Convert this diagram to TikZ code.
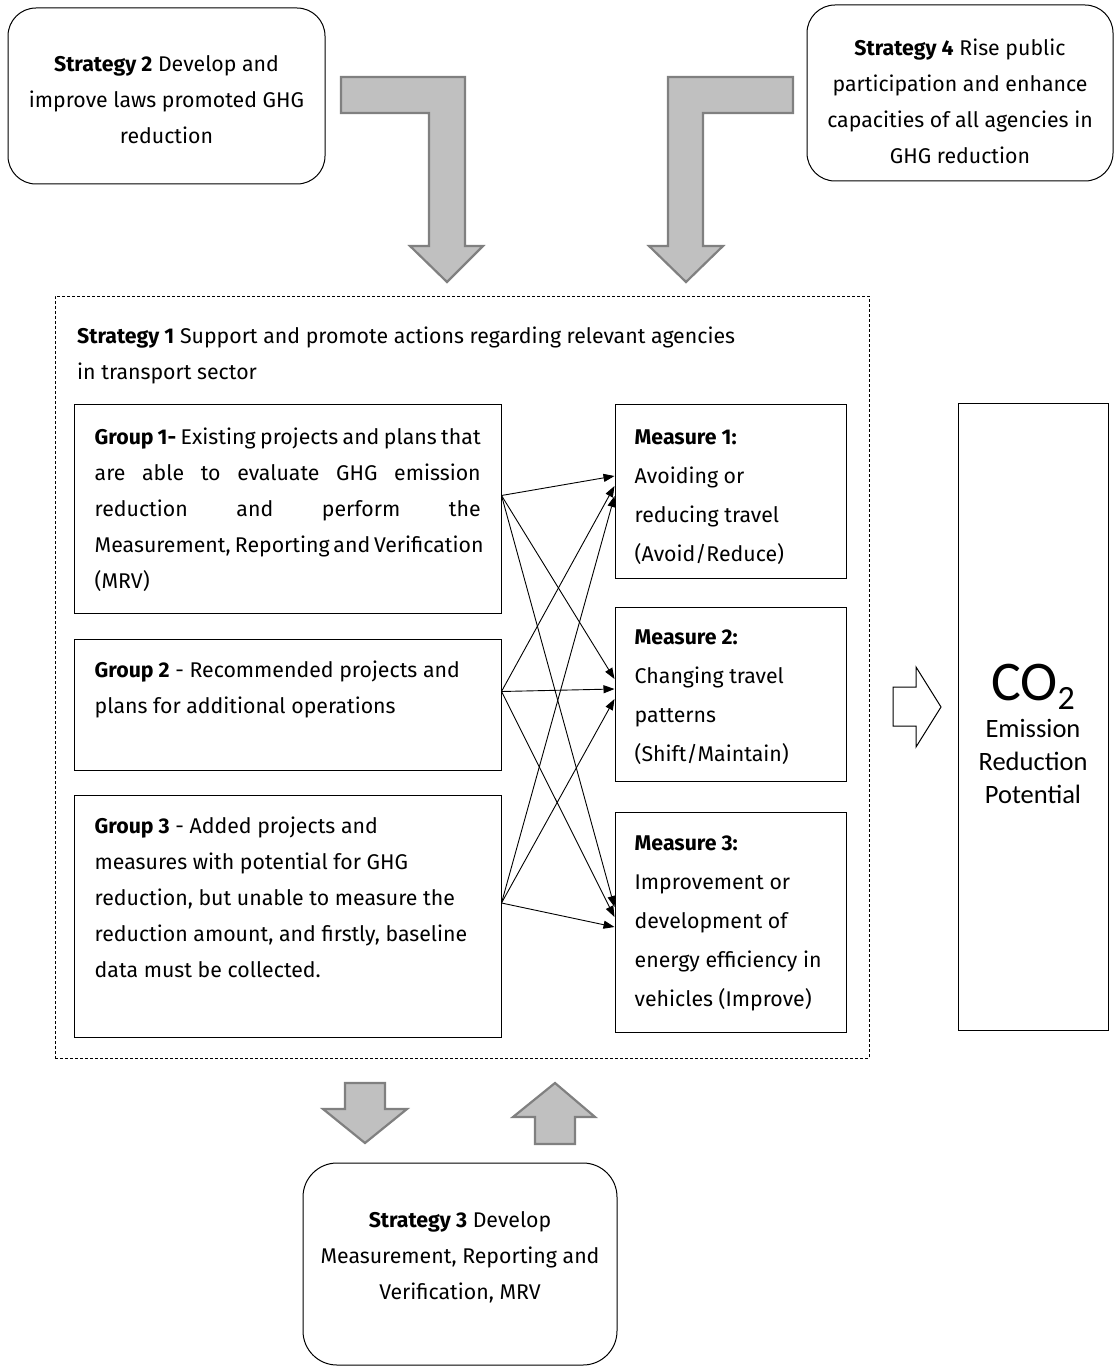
\documentclass[tikz,border=0pt]{standalone}
\usepackage{fontspec}
\setmainfont{Fira Sans}
\newfontfamily\calfont{Carlito}
\usepackage{tikz}
\usetikzlibrary{positioning,calc,arrows.meta}
\definecolor{fatfill}{HTML}{C0C0C0}
\definecolor{fatline}{HTML}{808080}
\setlength{\parindent}{0pt}
\newcommand{\justline}[1]{\makebox[386pt][s]{#1}}
\tikzset{
    stratbox/.style={rectangle, draw, rounded corners=28pt, line width=1pt},
    strattext/.style={inner sep=0pt, align=center, font=\fontsize{21.3}{36}\selectfont},
    framebox/.style={rectangle, draw, line width=0.8pt, dash pattern=on 3pt off 2pt},
    grpbox/.style={rectangle, draw, line width=1pt, minimum width=427pt},
    measbox/.style={rectangle, draw, line width=1pt, minimum width=231pt},
    bodytext/.style={inner sep=0pt, anchor=base west, align=left, font=\fontsize{21.3}{36}\selectfont},
    meastext/.style={inner sep=0pt, anchor=base west, align=left, font=\fontsize{21.3}{39}\selectfont},
    fatarrow/.style={draw=fatline, fill=fatfill, line width=2.2pt},
    hollow/.style={draw, line width=1pt, fill=white},
    link/.style={-{Triangle[length=11pt,width=8pt]}, line width=0.9pt}
}

\begin{document}
\begin{tikzpicture}[x=1pt, y=-1pt]
    \useasboundingbox (0,0) rectangle (1115,1367);

    % strategies 2 and 4 on top
    \node[stratbox, minimum width=317pt, minimum height=176pt] (s2) at (166.5,96) {};
    \node[strattext] (s2t) at ($(s2.center)+(0,4)$) {\textbf{Strategy 2} Develop and\\improve laws promoted GHG\\reduction};
    \node[stratbox, minimum width=306pt, minimum height=176pt] (s4) at (960,93) {};
    \node[strattext] (s4t) at ($(s4.center)+(0,8)$) {\textbf{Strategy 4} Rise public\\participation and enhance\\capacities of all agencies in\\GHG reduction};
    \draw[fatarrow] (341,77) -- (465,77) -- (465,246) -- (483,246) -- (447,282) -- (410,246) -- (429,246) -- (429,113) -- (341,113) -- cycle;
    \draw[fatarrow] (793,77) -- (668,77) -- (668,246) -- (649,246) -- (686,282) -- (723,246) -- (703,246) -- (703,113) -- (793,113) -- cycle;

    % strategy 1 frame (base = last line)
    \node[framebox, minimum width=814pt, minimum height=762pt] (s1) at (462,677) {};
    \node[bodytext] (s1t) at (77,379) {\textbf{Strategy 1} Support and promote actions regarding relevant agencies\\in transport sector};

    % groups
    \node[grpbox, minimum height=209pt] (g1) at (287.5,508.5) {};
    \node[grpbox, minimum height=131pt, below=25pt of g1] (g2) {};
    \node[grpbox, minimum height=242pt, below=24pt of g2] (g3) {};
    \node[bodytext] (g1t) at ($(g1.north west)+(21,185)$) {\justline{\textbf{Group 1-} Existing projects and plans that}\\\justline{are able to evaluate GHG emission}\\\justline{reduction and perform the}\\\justline{Measurement, Reporting and Verification}\\(MRV)};
    \node[bodytext] (g2t) at ($(g2.north west)+(21,75)$) {\textbf{Group 2} - Recommended projects and\\plans for additional operations};
    \node[bodytext] (g3t) at ($(g3.north west)+(21,183)$) {\textbf{Group 3} - Added projects and\\measures with potential for GHG\\reduction, but unable to measure the\\reduction amount, and firstly, baseline\\data must be collected.};

    % measures
    \node[measbox, minimum height=174pt] (m1) at (730.5,491) {};
    \node[measbox, minimum height=174pt, below=28pt of m1] (m2) {};
    \node[measbox, minimum height=220pt, below=30pt of m2] (m3) {};
    \node[meastext] (m1t) at ($(m1.north west)+(20,158)$) {\textbf{Measure 1:}\\Avoiding or\\reducing travel\\(Avoid/Reduce)};
    \node[meastext] (m2t) at ($(m2.north west)+(20,155)$) {\textbf{Measure 2:}\\Changing travel\\patterns\\(Shift/Maintain)};
    \node[meastext] (m3t) at ($(m3.north west)+(20,195)$) {\textbf{Measure 3:}\\Improvement or\\development of\\energy efficiency in\\vehicles (Improve)};

    \foreach \g in {1,2,3}
        \foreach \m in {1,2,3}
            \draw[link] ($(g\g.east)+(0,-13)$) -- ($(m\m.west)+(0,{(\g-1)*10-15})$);

    % result
    \draw[hollow] (893,687) -- (916,687) -- (916,667) -- (941,707) -- (916,747) -- (916,726) -- (893,726) -- cycle;
    \node[rectangle, draw, line width=1pt, minimum width=150pt, minimum height=627pt] (co) at (1033,716.5) {};
    \node[anchor=base, inner sep=0pt, font=\calfont\fontsize{56}{56}\selectfont] (co2) at (1033,700) {CO\raisebox{-9pt}{\fontsize{34}{34}\selectfont 2}};
    \node[anchor=base, inner sep=0pt, align=center, font=\calfont\fontsize{26.5}{33}\selectfont] (copot) at (1033,803) {Emission\\Reduction\\Potential};

    % strategy 3 below
    \draw[fatarrow] (345,1083) -- (385,1083) -- (385,1109) -- (407,1109) -- (365,1143) -- (323,1109) -- (345,1109) -- cycle;
    \draw[fatarrow] (555,1083) -- (595,1117) -- (575,1117) -- (575,1144) -- (535,1144) -- (535,1117) -- (513,1117) -- cycle;
    \node[stratbox, rounded corners=34pt, minimum width=314pt, minimum height=202pt] (s3) at (460,1264) {};
    \node[strattext] (s3t) at ($(s3.center)+(0,-7)$) {\textbf{Strategy 3} Develop\\Measurement, Reporting and\\Verification, MRV};
\end{tikzpicture}
\end{document}
